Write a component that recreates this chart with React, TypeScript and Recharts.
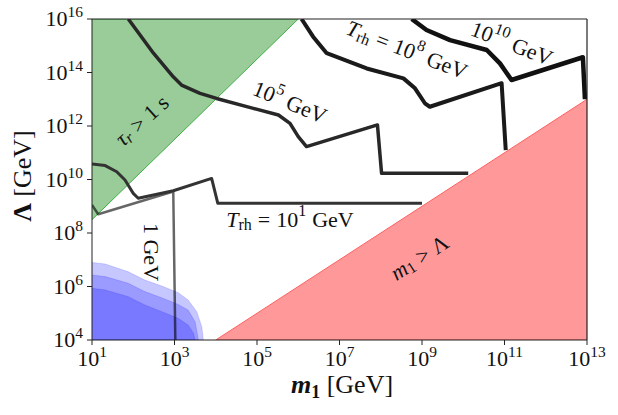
import React from 'react';
import { ComposedChart, Area, Line, XAxis, YAxis, ReferenceLine, ReferenceDot } from 'recharts';

// all values are log10 exponents: x = log10(m1/GeV), y = log10(Lambda/GeV)
const xTicks = [1, 3, 5, 7, 9, 11, 13];
const yTicks = [4, 6, 8, 10, 12, 14, 16];

// tau_r > 1 s region (lower edge, from top-left corner)
const tauEdge = [[1, 8.5], [6, 16]];
// m1 > Lambda region (upper edge)
const massEdge = [[4, 4], [13, 13]];

// blue bounds, outer to inner
const blueOuter = [[1, 6.9], [1.32, 6.84], [1.88, 6.55], [2.28, 6.24], [2.69, 6.02], [3.09, 5.77], [3.33, 5.5], [3.54, 5.06], [3.66, 4.5], [3.7, 4]];
const blueMid = [[1, 6.43], [1.32, 6.37], [1.88, 6.12], [2.28, 5.81], [2.69, 5.58], [3.09, 5.33], [3.33, 5.12], [3.5, 4.68], [3.58, 4]];
const blueInner = [[1, 5.93], [1.32, 5.87], [1.88, 5.62], [2.28, 5.31], [2.69, 5.06], [3.09, 4.81], [3.33, 4.56], [3.46, 4.25], [3.5, 4]];

// reheating temperature contours
const trh1 = [[1, 9.05], [1.15, 8.7], [2.97, 9.55], [3.02, 4]];
const trh10 = [[1, 10.58], [1.32, 10.52], [1.6, 10.29], [1.8, 9.98], [2.0, 9.48], [2.12, 9.3], [2.97, 9.58], [3.9, 10.04], [4.05, 9.11], [9, 9.11]];
const trh1e5 = [[1.88, 16], [2.49, 14.72], [2.97, 13.84], [3.17, 13.53], [3.62, 13.22], [4.02, 13.03], [4.91, 12.66], [5.52, 12.41], [5.8, 12.1], [6.0, 11.6], [6.2, 11.23], [7.92, 12.04], [8.02, 10.23], [10.12, 10.23]];
const trh1e8 = [[6.08, 16], [6.36, 15.34], [6.69, 14.72], [7.66, 14.15], [8.55, 13.78], [8.83, 13.41], [9.07, 12.85], [9.19, 12.72], [10.93, 13.6], [11.03, 11.1]];
const trh1e10 = [[8.75, 16], [9.11, 15.59], [9.68, 15.21], [10.57, 14.84], [10.89, 14.34], [11.17, 13.72], [12.9, 14.57], [12.95, 13.0]];

const FONT = '"Liberation Serif", "DejaVu Serif", serif';

const toPts = (arr: number[][]) => arr.map(([x, y]) => ({ x, y }));
const toBand = (arr: number[][], lo: number) => arr.map(([x, y]) => ({ x, y: [lo, y] }));
const tauBand = tauEdge.map(([x, y]) => ({ x, y: [y, 16] }));

const XTick = (props: any) => {
  const { x, y, payload } = props;
  return (
    <text x={x} y={y + 19} textAnchor="middle" fontFamily={FONT} fontSize={22} fill="#111">
      10<tspan dy={-9} fontSize={15.5}>{payload.value}</tspan>
    </text>
  );
};

const YTick = (props: any) => {
  const { x, y, payload } = props;
  return (
    <text x={x - 2} y={y + 7} textAnchor="end" fontFamily={FONT} fontSize={22} fill="#111">
      10<tspan dy={-9} fontSize={15.5}>{payload.value}</tspan>
    </text>
  );
};

const note = (angle: number, body: React.ReactNode) => (p: any) => (
  <text
    transform={`translate(${p.cx},${p.cy}) rotate(${angle})`}
    textAnchor="middle"
    dominantBaseline="central"
    fontFamily={FONT}
    fontSize={22}
    fill="#111"
    style={{ whiteSpace: 'pre' }}
  >
    {body}
  </text>
);

const trhText = (exp: string) => (
  <>
    <tspan fontStyle="italic">T</tspan>
    <tspan fontSize={16} dy={5}>rh</tspan>
    <tspan dy={-5} dx={6}>=</tspan>
    <tspan dx={6}>10</tspan>
    <tspan fontSize={16} dy={-9}>{exp}</tspan>
    <tspan dy={9} dx={6}>GeV</tspan>
  </>
);

const lineProps = { type: 'linear' as const, dataKey: 'y', dot: false, isAnimationActive: false, strokeLinejoin: 'round' as const };

export default function App() {
  return (
    <div style={{ position: 'absolute', left: 0, top: 0 }}>
      <ComposedChart width={618} height={415} margin={{ top: 19, right: 31, left: 0, bottom: 0 }}>
        <XAxis
          type="number"
          dataKey="x"
          domain={[1, 13]}
          ticks={xTicks}
          allowDataOverflow
          height={75}
          tick={XTick}
          tickSize={5}
          tickMargin={2}
          stroke="#222"
          label={{
            content: () => (
              <text x={342} y={393} textAnchor="middle" fontFamily={FONT} fontSize={26} fill="#111" style={{ whiteSpace: 'pre' }}>
                <tspan fontWeight="bold" fontStyle="italic">m</tspan>
                <tspan fontWeight="bold" fontSize={18} dy={5}>1</tspan>
                <tspan dy={-5}> [GeV]</tspan>
              </text>
            ),
          }}
        />
        <YAxis
          type="number"
          domain={[4, 16]}
          ticks={yTicks}
          allowDataOverflow
          width={92}
          tick={YTick}
          tickSize={5}
          tickMargin={2}
          stroke="#222"
          label={{
            content: () => (
              <text transform="translate(31,176) rotate(-90)" textAnchor="middle" fontFamily={FONT} fontSize={26} fill="#111" style={{ whiteSpace: 'pre' }}>
                <tspan fontWeight="bold">Λ</tspan>
                <tspan> [GeV]</tspan>
              </text>
            ),
          }}
        />

        <Area data={tauBand} type="linear" dataKey="y" fill="#008000" fillOpacity={0.4} stroke="#3cb043" strokeWidth={1} isAnimationActive={false} />
        <Area data={toBand(massEdge, 4)} type="linear" dataKey="y" fill="#ff0000" fillOpacity={0.4} stroke="#ff6060" strokeWidth={1} isAnimationActive={false} />
        <Area data={toBand(blueOuter, 4)} type="linear" dataKey="y" fill="#0000ff" fillOpacity={0.22} stroke="#0000ff" strokeOpacity={0.15} isAnimationActive={false} />
        <Area data={toBand(blueMid, 4)} type="linear" dataKey="y" fill="#0000ff" fillOpacity={0.22} stroke="#0000ff" strokeOpacity={0.15} isAnimationActive={false} />
        <Area data={toBand(blueInner, 4)} type="linear" dataKey="y" fill="#0000ff" fillOpacity={0.22} stroke="#0000ff" strokeOpacity={0.15} isAnimationActive={false} />

        <Line {...lineProps} data={toPts(trh1)} stroke="#000" strokeOpacity={0.6} strokeWidth={2.5} />
        <Line {...lineProps} data={toPts(trh10)} stroke="#333" strokeWidth={3} />
        <Line {...lineProps} data={toPts(trh1e5)} stroke="#282828" strokeWidth={3.5} />
        <Line {...lineProps} data={toPts(trh1e8)} stroke="#1a1a1a" strokeWidth={4} />
        <Line {...lineProps} data={toPts(trh1e10)} stroke="#111" strokeWidth={4.5} />

        <ReferenceLine y={16} stroke="#222" strokeWidth={1.2} />
        <ReferenceLine x={13} stroke="#222" strokeWidth={1.2} />

        <ReferenceDot x={2.2} y={12.22} r={0} ifOverflow="visible" shape={note(-42, <>
          <tspan fontStyle="italic">τ</tspan><tspan fontSize={16} dy={4} fontStyle="italic">r</tspan><tspan dy={-4} dx={6}>&gt;</tspan><tspan dx={6}>1 s</tspan>
        </>)} />
        <ReferenceDot x={5.8} y={12.9} r={0} ifOverflow="visible" shape={note(22, <>
          10<tspan fontSize={16} dy={-9}>5</tspan><tspan dy={9} dx={6}>GeV</tspan>
        </>)} />
        <ReferenceDot x={8.64} y={14.87} r={0} ifOverflow="visible" shape={note(21, trhText('8'))} />
        <ReferenceDot x={11.18} y={15.1} r={0} ifOverflow="visible" shape={note(21, <>
          10<tspan fontSize={16} dy={-9}>10</tspan><tspan dy={9} dx={6}>GeV</tspan>
        </>)} />
        <ReferenceDot x={5.8} y={8.52} r={0} ifOverflow="visible" shape={note(0, trhText('1'))} />
        <ReferenceDot x={2.45} y={7.29} r={0} ifOverflow="visible" shape={note(90, <>1 GeV</>)} />
        <ReferenceDot x={8.93} y={7.1} r={0} ifOverflow="visible" shape={note(-33, <>
          <tspan fontStyle="italic">m</tspan><tspan fontSize={16} dy={4}>1</tspan><tspan dy={-4} dx={6}>&gt;</tspan><tspan dx={6}>Λ</tspan>
        </>)} />
      </ComposedChart>
    </div>
  );
}
